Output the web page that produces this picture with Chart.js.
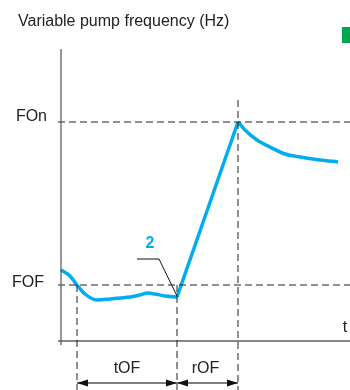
<!DOCTYPE html>
<html>
<head>
<meta charset="utf-8">
<script src="https://cdn.jsdelivr.net/npm/chart.js@4.4.0/dist/chart.umd.min.js"></script>
<style>
  body { margin: 0; background: #fff; }
  #wrap { width: 350px; height: 390px; position: relative; }
</style>
</head>
<body>
<div id="wrap"><canvas id="myChart"></canvas></div>
<script>
// levels and times, in chart units (t grows right, frequency grows up)
const levelLabels = ['FOn', 'FOF'];
const levels = [219, 56];
const timeLabels = ['tOF', 'rOF'];
const timeMarks = [16, 116, 177]; // FOF crossing, end of tOF, end of rOF

// frequency curve, three pieces
const dropT = [0, 9, 16, 24, 36, 49, 59, 69, 79, 87, 94, 104, 116];
const dropF = [71, 65, 56, 47, 41, 42, 43, 44, 46, 48, 47, 45, 44];
const rampT = [116, 177];
const rampF = [44, 219];
const decayT = [177, 184, 196, 209, 224, 239, 259, 277];
const decayF = [219, 211, 201, 194, 187, 184, 181, 179];

// callout "2"
const calloutT = [76, 98, 116];
const calloutF = [82, 82, 45];

const blue = '#00aeef';
const dark = '#222';

const pts = (xs, ys) => xs.map((x, i) => ({ x: x, y: ys[i] }));

const lineSet = (data, color, width, dash, smooth) => ({
  data: data,
  borderColor: color,
  borderWidth: width,
  borderDash: dash || [],
  pointRadius: 0,
  fill: false,
  cubicInterpolationMode: smooth ? 'monotone' : 'default',
  tension: 0
});

const xMin = -3, xMax = 289, yBottom = -49, arrowY = -42;
const dash = [7, 4];

const datasets = [
  // axes
  lineSet([{ x: 0, y: -4 }, { x: 0, y: 292 }], '#555', 1.2),
  lineSet([{ x: xMin, y: 0 }, { x: xMax, y: 0 }], '#111', 1.2),
  // level lines
  lineSet([{ x: xMin, y: levels[0] }, { x: xMax, y: levels[0] }], dark, 1, dash),
  lineSet([{ x: xMin, y: levels[1] }, { x: xMax, y: levels[1] }], dark, 1, dash),
  // time marks
  lineSet([{ x: timeMarks[0], y: levels[1] }, { x: timeMarks[0], y: yBottom }], dark, 1, dash),
  lineSet([{ x: timeMarks[1], y: levels[1] }, { x: timeMarks[1], y: yBottom }], dark, 1, dash),
  lineSet([{ x: timeMarks[2], y: 241 }, { x: timeMarks[2], y: yBottom }], dark, 1, dash),
  // dimension lines
  lineSet([{ x: timeMarks[0], y: arrowY }, { x: timeMarks[1], y: arrowY }], '#555', 1.5),
  lineSet([{ x: timeMarks[1], y: arrowY }, { x: timeMarks[2], y: arrowY }], '#555', 1.5),
  // callout leader
  lineSet(pts(calloutT, calloutF), '#111', 1),
  // curve
  lineSet(pts(dropT, dropF), blue, 3.5, null, true),
  lineSet(pts(rampT, rampF), blue, 3.5),
  lineSet(pts(decayT, decayF), blue, 3.5, null, true)
];

const annotate = {
  id: 'annotate',
  afterDatasetsDraw(chart) {
    const ctx = chart.ctx;
    const xs = chart.scales.x, ys = chart.scales.y;
    const X = v => xs.getPixelForValue(v);
    const Y = v => ys.getPixelForValue(v);
    ctx.save();

    // arrow heads
    const head = (x, y, dir) => {
      ctx.beginPath();
      ctx.moveTo(x, y);
      ctx.lineTo(x + dir * 11, y - 3.5);
      ctx.lineTo(x + dir * 11, y + 3.5);
      ctx.closePath();
      ctx.fill();
    };
    ctx.fillStyle = '#111';
    const ay = Y(arrowY);
    head(X(timeMarks[0]), ay, 1);
    head(X(timeMarks[1]), ay, -1);
    head(X(timeMarks[1]), ay, 1);
    head(X(timeMarks[2]), ay, -1);

    // texts
    ctx.fillStyle = '#222';
    ctx.font = '16px "Liberation Sans", Arial, sans-serif';
    ctx.textBaseline = 'alphabetic';
    ctx.textAlign = 'left';
    ctx.fillText('Variable pump frequency (Hz)', 18, 26);

    ctx.textAlign = 'right';
    ctx.textBaseline = 'middle';
    ctx.fillText(levelLabels[0], X(0) - 14, Y(levels[0]) - 5);
    ctx.fillText(levelLabels[1], X(0) - 17, Y(levels[1]) - 2);

    ctx.textAlign = 'center';
    ctx.fillText(timeLabels[0], (X(timeMarks[0]) + X(timeMarks[1])) / 2, Y(-28));
    ctx.fillText(timeLabels[1], (X(timeMarks[1]) + X(timeMarks[2])) / 2 - 2, Y(-28));
    ctx.fillText('t', X(284), Y(13));

    ctx.fillStyle = blue;
    ctx.font = 'bold 16px "Liberation Sans", Arial, sans-serif';
    ctx.fillText('2', X(89), Y(97));

    // green tab at the top right
    ctx.fillStyle = '#00a651';
    ctx.fillRect(X(281), Y(314), X(289) - X(281), Y(298) - Y(314));
    ctx.restore();
  }
};

const config = {
  type: 'line',
  data: { datasets: datasets },
  options: {
    responsive: true,
    maintainAspectRatio: false,
    animation: false,
    layout: { padding: 0 },
    plugins: { legend: { display: false }, tooltip: { enabled: false } },
    scales: {
      x: { type: 'linear', min: -61, max: 289, display: false },
      y: { type: 'linear', min: -49, max: 341, display: false }
    }
  },
  plugins: [annotate]
};

const myChart = new Chart(document.getElementById('myChart'), config);
</script>
</body>
</html>
